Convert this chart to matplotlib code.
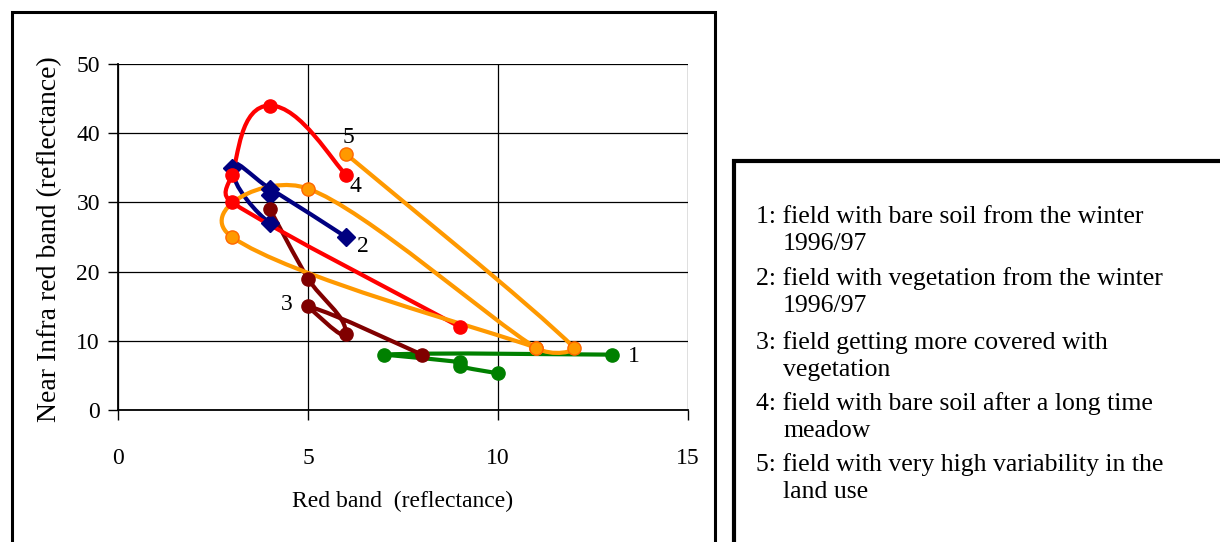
import numpy as np
import matplotlib
matplotlib.use("Agg")
import matplotlib.pyplot as plt
from matplotlib.path import Path
from matplotlib.patches import PathPatch, Rectangle

# ---- data (Red band reflectance, NIR reflectance) ----
s1_x = [13, 7, 9, 9, 10]
s1_y = [8, 8, 6.9, 6.3, 5.3]
s2_x = [6, 4, 3, 4, 4]
s2_y = [25, 32, 35, 27, 31]
s3_x = [4, 5, 6, 5, 8]
s3_y = [29, 19, 11, 15, 8]
s4_x = [6, 4, 3, 3, 9]
s4_y = [34, 44, 34, 30, 12]
s5_x = [6, 12, 11, 5, 3, 11]
s5_y = [37, 9, 9, 32, 25, 9]
series_labels = ["1", "2", "3", "4", "5"]
x_ticks = [0, 5, 10, 15]
y_ticks = [0, 10, 20, 30, 40, 50]
legend_lines = [
    ("1: field with bare soil from the winter", "1996/97"),
    ("2: field with vegetation from the winter", "1996/97"),
    ("3: field getting more covered with", "vegetation"),
    ("4: field with bare soil after a long time", "meadow"),
    ("5: field with very high variability in the", "land use"),
]

plt.rcParams['font.family'] = ['Liberation Serif', 'DejaVu Serif']

fig = plt.figure(figsize=(12.2, 5.42), dpi=100)
W, H = 1220, 542
ax = fig.add_axes([118 / W, 1 - 410 / H, (688 - 118) / W, (410 - 64) / H])
ax.set_xlim(0, 15)
ax.set_ylim(0, 50)


def _unit(v):
    n = np.hypot(*v)
    return v / n if n > 0 else v


def smooth_path(xs, ys, ax):
    """Excel-like smoothed line built from cubic Bezier segments.
    Tangent direction from the neighbours; arm length (d01+d12)/6 limited
    to half the adjacent segment, and reduced where it would backtrack."""
    pts = np.column_stack([xs, ys]).astype(float)
    disp = ax.transData.transform(pts)
    n = len(pts)
    arm_in = [np.zeros(2) for _ in range(n)]
    arm_out = [np.zeros(2) for _ in range(n)]
    for i in range(n):
        p1 = disp[i]
        p0 = disp[i - 1] if i > 0 else p1
        p2 = disp[i + 1] if i < n - 1 else p1
        t = _unit(p2 - p0)
        d01 = np.hypot(*(p1 - p0))
        d12 = np.hypot(*(p2 - p1))
        base = (d01 + d12) / 6.0
        if i > 0:
            dot = np.dot(t, _unit(p1 - p0))
            s = np.clip((dot + 0.8) / 0.4, 0, 1)
            arm_in[i] = t * min(base, d01 / 2) * s
        if i < n - 1:
            dot = np.dot(t, _unit(p2 - p1))
            s = np.clip((dot + 0.8) / 0.4, 0, 1)
            arm_out[i] = t * min(base, d12 / 2) * s
    verts = [disp[0]]
    codes = [Path.MOVETO]
    for i in range(n - 1):
        verts += [disp[i] + arm_out[i], disp[i + 1] - arm_in[i + 1], disp[i + 1]]
        codes += [Path.CURVE4] * 3
    verts = ax.transData.inverted().transform(np.array(verts))
    return Path(verts, codes)


series = [
    (s1_x, s1_y, "#008000", "#008000", "o", 9.5),
    (s2_x, s2_y, "#000080", "#000080", "D", 9),
    (s3_x, s3_y, "#800000", "#800000", "o", 9.5),
    (s4_x, s4_y, "#FF0000", "#FF0000", "o", 9.5),
    (s5_x, s5_y, "#FF9900", "#FF6600", "o", 9.5),
]

for xs, ys, col, ec, mk, ms in series:
    ax.add_patch(PathPatch(smooth_path(xs, ys, ax), fill=False, edgecolor=col,
                           lw=3, zorder=3, capstyle='round', joinstyle='round'))
for xs, ys, col, ec, mk, ms in series:
    ax.plot(xs, ys, linestyle='none', marker=mk, markersize=ms,
            markerfacecolor=col, markeredgecolor=ec, markeredgewidth=1, zorder=4)

# series number labels
offsets = [((s1_x[0], s1_y[0]), (16, -1.5)),
           ((s2_x[0], s2_y[0]), (12, -7)),
           ((s3_x[3], s3_y[3]), (-15, 1.5)),
           ((s4_x[0], s4_y[0]), (6.5, -8.5)),
           ((s5_x[0], s5_y[0]), (2, 12))]
for lab, (xy, off) in zip(series_labels, offsets):
    ax.annotate(lab, xy=xy, xytext=off, textcoords='offset points',
                ha='center', va='center', fontsize=17, zorder=5)

ax.set_xticks(x_ticks)
ax.set_yticks(y_ticks)
ax.grid(True, color='#000000', lw=0.9, zorder=1)
ax.set_axisbelow(True)
for side in ['top', 'right']:
    ax.spines[side].set_visible(False)
for side in ['left', 'bottom']:
    ax.spines[side].set_linewidth(1.3)
    ax.spines[side].set_color('black')
ax.tick_params(axis='both', direction='out', length=7, width=1, labelsize=17)
ax.tick_params(axis='x', pad=20)
ax.tick_params(axis='y', pad=6)
ax.set_xlabel("Red band  (reflectance)", fontsize=17)
ax.set_ylabel("Near Infra red band (reflectance)", fontsize=20)
ax.xaxis.set_label_coords(0.5, -0.235)
ax.yaxis.set_label_coords(-0.098, 0.494)

# outer frames
fig.patches.append(Rectangle((11.5 / W, -0.1), (715 - 11.5) / W, 1.1 - 12 / H,
                             transform=fig.transFigure, fill=False, edgecolor='black',
                             lw=2.2, zorder=10))
fig.patches.append(Rectangle((734 / W, -0.1), 1.0, 1.1 - 161 / H,
                             transform=fig.transFigure, fill=False, edgecolor='black',
                             lw=3, zorder=10))

# legend text
starts = [217, 279, 343, 404, 465]
for (l1, l2), y0 in zip(legend_lines, starts):
    fig.text(756 / W, 1 - y0 / H, l1, fontsize=18.5, va='center', ha='left')
    fig.text(783 / W, 1 - (y0 + 27) / H, l2, fontsize=18.5, va='center', ha='left')

fig.savefig("out.png", dpi=100)
